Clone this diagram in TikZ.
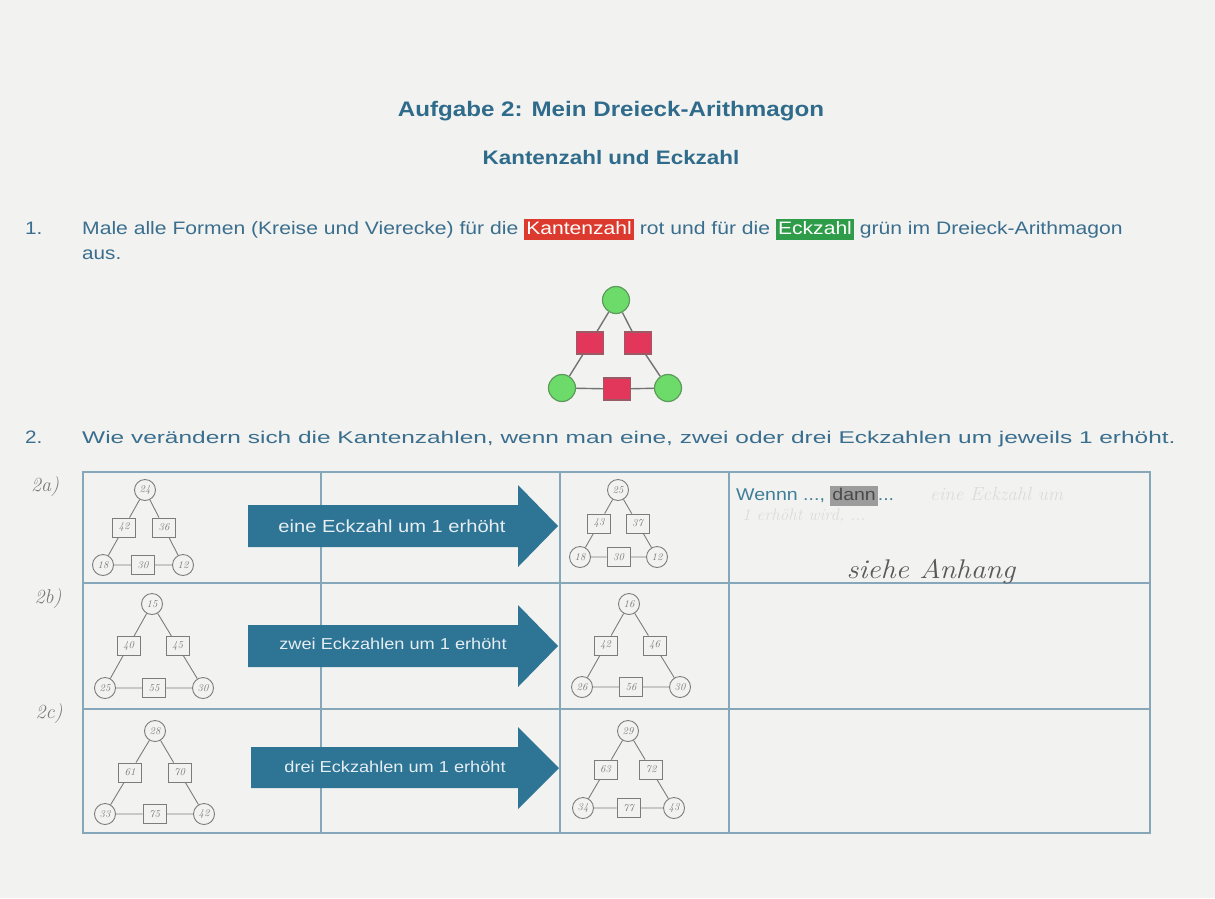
\documentclass[tikz,border=0pt]{standalone}
\usepackage{graphicx}
\usepackage{fontspec}
\setsansfont{Liberation Sans}[FakeStretch=1.15]
\renewcommand\familydefault{\sfdefault}
\usetikzlibrary{calc}

\definecolor{pagebg}{HTML}{F2F2F0}
\definecolor{ink}{HTML}{2F6B8B}
\definecolor{bodyink}{HTML}{3A6E8E}
\definecolor{wennc}{HTML}{3E7E98}
\definecolor{rulec}{HTML}{86A6BA}
\definecolor{arrowc}{HTML}{2D7495}
\definecolor{arrowtxt}{HTML}{E6EEF2}
\definecolor{pencil}{HTML}{7C7C7C}
\definecolor{faint}{HTML}{DCDCD7}
\definecolor{kred}{HTML}{DC3A2E}
\definecolor{egreen}{HTML}{2E9C48}
\definecolor{vgreen}{HTML}{6CDB6A}
\definecolor{vgreenline}{HTML}{5E9A5E}
\definecolor{ered}{HTML}{E2375A}
\definecolor{eredline}{HTML}{9A5A66}
\definecolor{dannbg}{HTML}{9C9C9C}
\definecolor{danntxt}{HTML}{4A4A4A}

% inline highlight with room for ascenders and descenders
\newcommand\hilite[3]{{\setlength\fboxsep{2pt}\colorbox{#1}{\color{#2}\vphantom{Kg}#3}}}

% one arithmagon: prefix, top, bottom-left, bottom-right positions, corner numbers;
% the edge numbers are the sums of their two corners
\newcommand\arith[7]{%
  \node[vtx] (#1-t) at #2 {#5};
  \node[vtx] (#1-l) at #3 {#6};
  \node[vtx] (#1-r) at #4 {#7};
  \node[edg] (#1-el) at ($(#1-t)!0.5!(#1-l)$) {\the\numexpr#5+#6\relax};
  \node[edg] (#1-er) at ($(#1-t)!0.5!(#1-r)$) {\the\numexpr#5+#7\relax};
  \node[edg] (#1-eb) at ($(#1-l)!0.5!(#1-r)$) {\the\numexpr#6+#7\relax};
  \draw[tline] (#1-t) -- (#1-el) -- (#1-l) -- (#1-eb) -- (#1-r) -- (#1-er) -- (#1-t);
}

\begin{document}
\begin{tikzpicture}[x=1pt,y=-1pt,
  vtx/.style={circle,draw=pencil,line width=0.9pt,minimum size=21pt,inner sep=0pt,
    font=\rmfamily\itshape\fontsize{10.5}{10.5}\selectfont,text=pencil},
  edg/.style={rectangle,draw=pencil,line width=0.9pt,minimum width=23pt,minimum height=19pt,
    inner sep=0pt,fill=pagebg,font=\rmfamily\itshape\fontsize{10.5}{10.5}\selectfont,text=pencil},
  tline/.style={draw=pencil,line width=0.9pt},
  body/.style={anchor=base west,inner sep=0pt,text=bodyink,font=\fontsize{18}{18}\selectfont},
  title/.style={anchor=base,inner sep=0pt,text=ink,font=\bfseries\fontsize{21}{21}\selectfont},
  hand/.style={inner sep=0pt,text=pencil,font=\rmfamily\itshape\fontsize{20}{20}\selectfont},
  arrowlabel/.style={inner sep=0pt,text=arrowtxt},
  gv/.style={circle,draw=vgreenline,fill=vgreen,line width=1.2pt,minimum size=27pt,inner sep=0pt},
  re/.style={rectangle,draw=eredline,fill=ered,line width=1.2pt,minimum width=27pt,minimum height=22pt,inner sep=0pt},
  gline/.style={draw=black!55,line width=1.4pt},
  rulel/.style={draw=rulec,line width=1.2pt}]

\fill[pagebg] (0,0) rectangle (1215,898);
\useasboundingbox (0,0) rectangle (1215,898);

% headings
\node[title] (h1) at (611,116) {Aufgabe 2: Mein Dreieck-Arithmagon};
\node[title,font=\bfseries\fontsize{19.5}{19.5}\selectfont] (h2) at (611,164) {Kantenzahl und Eckzahl};

% task 1
\node[body] (n1) at (25,234) {1.};
\node[body] (t1) at (82,234) {\scalebox{1.02}[1]{Male alle Formen (Kreise und Vierecke) für die
  \hilite{kred}{white}{Kantenzahl} rot und für die \hilite{egreen}{white}{Eckzahl}
  grün im Dreieck-Arithmagon}};
\node[body] (t1b) at (82,259) {aus.};

% coloured arithmagon
\node[gv] (ct) at (616,300) {};
\node[gv] (cl) at (562,388) {};
\node[gv] (cr) at (668,388) {};
\node[re] (cel) at (590,343) {};
\node[re] (cer) at (638,343) {};
\node[re] (ceb) at (617,389) {};
\draw[gline] (ct) -- (cel) -- (cl) -- (ceb) -- (cr) -- (cer) -- (ct);

% task 2
\node[body] (n2) at (25,443) {2.};
\node[body,font=\fontsize{17}{17}\selectfont] (t2) at (82,443) {\scalebox{1.25}[1]{Wie verändern sich die Kantenzahlen, wenn man eine, zwei oder drei Eckzahlen um jeweils 1 erhöht.}};

% table grid
\draw[rulel] (83,472) rectangle (1150,833);
\draw[rulel] (83,583) -- (1150,583);
\draw[rulel] (83,709) -- (1150,709);
\draw[rulel] (321,472) -- (321,833);
\draw[rulel] (560,472) -- (560,833);
\draw[rulel] (729,472) -- (729,833);

% row labels
\node[hand] (la) at (45,486) {2a)};
\node[hand] (lb) at (48,598) {2b)};
\node[hand] (lc) at (49,713) {2c)};

% arrows
\fill[arrowc] (248,505) -- (518,505) -- (518,485) -- (558,526) -- (518,567) -- (518,547) -- (248,547) -- cycle;
\fill[arrowc] (248,625) -- (518,625) -- (518,605) -- (558,646) -- (518,687) -- (518,667) -- (248,667) -- cycle;
\fill[arrowc] (251,747) -- (518,747) -- (518,727) -- (559,768) -- (518,809) -- (518,788) -- (251,788) -- cycle;
\node[arrowlabel,font=\fontsize{17.5}{17.5}\selectfont] (aa) at (392,526) {eine Eckzahl um 1 erhöht};
\node[arrowlabel,font=\fontsize{15.8}{15.8}\selectfont] (ab) at (393,644) {zwei Eckzahlen um 1 erhöht};
\node[arrowlabel,font=\fontsize{15.8}{15.8}\selectfont] (ac) at (395,767) {drei Eckzahlen um 1 erhöht};

% arithmagons before and after
\arith{a1}{(145,490)}{(103,565)}{(183,565)}{24}{18}{12}
\arith{a2}{(618,490)}{(580,557)}{(657,557)}{25}{18}{12}
\arith{b1}{(152,604)}{(105,688)}{(203,688)}{15}{25}{30}
\arith{b2}{(629,604)}{(582,687)}{(680,687)}{16}{26}{30}
\arith{c1}{(155,731)}{(105,814)}{(204,814)}{28}{33}{42}
\arith{c2}{(628,731)}{(583,808)}{(674,808)}{29}{34}{43}

% answer column
\node[anchor=base west,inner sep=0pt,font=\fontsize{17}{17}\selectfont,text=wennc] (wenn) at (736,500)
  {Wennn ..., \hilite{dannbg}{danntxt}{dann}...};
\node[anchor=base west,inner sep=0pt,text=faint,font=\rmfamily\itshape\fontsize{19}{19}\selectfont] (er1) at (930,500) {eine Eckzahl um};
\node[anchor=base west,inner sep=0pt,text=faint,font=\rmfamily\itshape\fontsize{17}{17}\selectfont] (er2) at (742,520) {1 erhöht wird, ...};
\node[hand,text=black!65,font=\rmfamily\itshape\fontsize{27}{27}\selectfont] (siehe) at (931,572) {\scalebox{1.1}[1]{siehe Anhang}};

\end{tikzpicture}
\end{document}
